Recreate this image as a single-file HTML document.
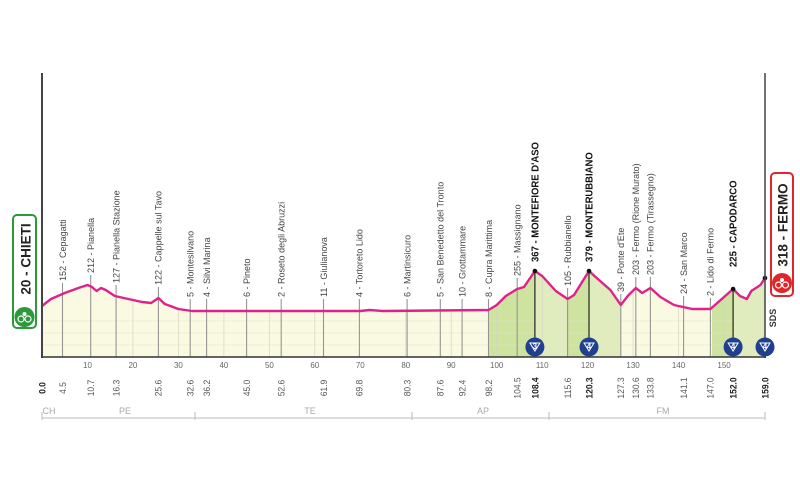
<!DOCTYPE html>
<html><head><meta charset="utf-8"><style>
html,body{margin:0;padding:0;background:#fff;}
svg{display:block;font-family:"Liberation Sans",sans-serif;}
</style></head><body>
<svg width="800" height="484" viewBox="0 0 800 484" xmlns="http://www.w3.org/2000/svg">
<defs>
<clipPath id="area"><polygon points="42,357 42,306 51,299 64.7,293 78.4,288 87.5,285 92,287 96.6,291 101.1,288 105.7,290 114.8,296 123.8,298 142,302 151.1,303 158.4,298 164.8,304 178.4,309 192,311 360.3,311 369.4,310 383,311 488.5,310 496.7,305 505.8,296 517.2,289 524,287 534.9,271 542.2,276 555.8,291 567.6,299 574,295 589,271 596.7,278 610.4,290 620.8,305 628.6,295 635.8,288 642.2,293 650.4,288 660.4,297 674,305 692.2,309 710.4,309 719.5,301 733.1,289 740,296 746.8,299 751.3,291 760.4,285 765,278 765,357"/></clipPath>
</defs>
<g clip-path="url(#area)">
<rect x="42" y="260" width="723" height="97" fill="#fafae3"/>
<rect x="489" y="260" width="46" height="97" fill="#cfe3a0"/>
<rect x="535" y="260" width="32" height="97" fill="#e0ecbd"/>
<rect x="567" y="260" width="22" height="97" fill="#cfe3a0"/>
<rect x="589" y="260" width="32" height="97" fill="#e0ecbd"/>
<rect x="712" y="260" width="21" height="97" fill="#cfe3a0"/>
<rect x="733" y="260" width="32" height="97" fill="#e0ecbd"/>
<g stroke="#e4e4cc" stroke-width="0.6">
<line x1="42" y1="321" x2="765" y2="321"/><line x1="42" y1="333" x2="765" y2="333"/><line x1="42" y1="345" x2="765" y2="345"/>
</g>
<g stroke="#d4d4c2" stroke-width="0.7">
<line x1="132.9" y1="260" x2="132.9" y2="357"/><line x1="178.4" y1="260" x2="178.4" y2="357"/><line x1="223.9" y1="260" x2="223.9" y2="357"/><line x1="269.4" y1="260" x2="269.4" y2="357"/><line x1="314.8" y1="260" x2="314.8" y2="357"/><line x1="405.8" y1="260" x2="405.8" y2="357"/><line x1="451.2" y1="260" x2="451.2" y2="357"/><line x1="496.7" y1="260" x2="496.7" y2="357"/><line x1="542.2" y1="260" x2="542.2" y2="357"/><line x1="633.1" y1="260" x2="633.1" y2="357"/><line x1="678.6" y1="260" x2="678.6" y2="357"/><line x1="724.1" y1="260" x2="724.1" y2="357"/>
</g>
</g>
<g stroke="#959595" stroke-width="1.1">
<line x1="62.5" y1="283" x2="62.5" y2="357"/><line x1="90.7" y1="275" x2="90.7" y2="357"/><line x1="116.1" y1="285" x2="116.1" y2="357"/><line x1="158.4" y1="287" x2="158.4" y2="357"/><line x1="190.2" y1="299" x2="190.2" y2="357"/><line x1="206.6" y1="299" x2="206.6" y2="357"/><line x1="246.6" y1="299" x2="246.6" y2="357"/><line x1="281.2" y1="299" x2="281.2" y2="357"/><line x1="323.5" y1="299" x2="323.5" y2="357"/><line x1="359.4" y1="299" x2="359.4" y2="357"/><line x1="407.1" y1="299" x2="407.1" y2="357"/><line x1="440.3" y1="299" x2="440.3" y2="357"/><line x1="462.1" y1="299" x2="462.1" y2="357"/><line x1="488.5" y1="299" x2="488.5" y2="357"/><line x1="517.2" y1="278" x2="517.2" y2="357"/><line x1="567.6" y1="288" x2="567.6" y2="357"/><line x1="620.8" y1="294" x2="620.8" y2="357"/><line x1="635.8" y1="277" x2="635.8" y2="357"/><line x1="650.4" y1="277" x2="650.4" y2="357"/><line x1="683.6" y1="296" x2="683.6" y2="357"/><line x1="710.4" y1="298" x2="710.4" y2="357"/>
</g>
<g stroke="#222" stroke-width="1.2">
<line x1="534.9" y1="271" x2="534.9" y2="347"/><line x1="589" y1="271" x2="589" y2="347"/><line x1="733.1" y1="289" x2="733.1" y2="347"/>
</g>
<polyline fill="none" stroke="#e0218a" stroke-width="2.4" stroke-linejoin="round" points="42,306 51,299 64.7,293 78.4,288 87.5,285 92,287 96.6,291 101.1,288 105.7,290 114.8,296 123.8,298 142,302 151.1,303 158.4,298 164.8,304 178.4,309 192,311 360.3,311 369.4,310 383,311 488.5,310 496.7,305 505.8,296 517.2,289 524,287 534.9,271 542.2,276 555.8,291 567.6,299 574,295 589,271 596.7,278 610.4,290 620.8,305 628.6,295 635.8,288 642.2,293 650.4,288 660.4,297 674,305 692.2,309 710.4,309 719.5,301 733.1,289 740,296 746.8,299 751.3,291 760.4,285 765,278"/>
<g fill="#111"><circle cx="534.9" cy="271" r="2.3"/><circle cx="589" cy="271" r="2.3"/><circle cx="733.1" cy="289" r="2.3"/><circle cx="765" cy="278" r="2.3"/></g>
<line x1="42" y1="73" x2="42" y2="358" stroke="#444" stroke-width="2"/>
<line x1="765" y1="73" x2="765" y2="358" stroke="#444" stroke-width="1.5"/>
<line x1="41" y1="357" x2="766" y2="357" stroke="#333" stroke-width="1.5"/>
<g font-size="9.5" fill="#444">
<text transform="translate(65.8,281) rotate(-90) scale(0.95,1)">152 - Cepagatti</text>
<text transform="translate(94,273) rotate(-90) scale(0.95,1)">212 - Pianella</text>
<text transform="translate(119.4,283) rotate(-90) scale(0.95,1)">127 - Pianella Stazione</text>
<text transform="translate(161.7,285) rotate(-90) scale(0.95,1)">122 - Cappelle sul Tavo</text>
<text transform="translate(193.5,297) rotate(-90) scale(0.95,1)">5 - Montesilvano</text>
<text transform="translate(209.9,297) rotate(-90) scale(0.95,1)">4 - Silvi Marina</text>
<text transform="translate(249.9,297) rotate(-90) scale(0.95,1)">6 - Pineto</text>
<text transform="translate(284.5,297) rotate(-90) scale(0.95,1)">2 - Roseto degli Abruzzi</text>
<text transform="translate(326.8,297) rotate(-90) scale(0.95,1)">11 - Giulianova</text>
<text transform="translate(362.7,297) rotate(-90) scale(0.95,1)">4 - Tortoreto Lido</text>
<text transform="translate(410.4,297) rotate(-90) scale(0.95,1)">6 - Martinsicuro</text>
<text transform="translate(443.6,297) rotate(-90) scale(0.95,1)">5 - San Benedetto del Tronto</text>
<text transform="translate(465.4,297) rotate(-90) scale(0.95,1)">10 - Grottammare</text>
<text transform="translate(491.8,297) rotate(-90) scale(0.95,1)">8 - Cupra Marittima</text>
<text transform="translate(520.5,276) rotate(-90) scale(0.95,1)">255 - Massignano</text>
<text transform="translate(570.9,286) rotate(-90) scale(0.95,1)">105 - Rubbianello</text>
<text transform="translate(624.1,292) rotate(-90) scale(0.95,1)">39 - Ponte d'Ete</text>
<text transform="translate(639.1,275) rotate(-90) scale(0.95,1)">203 - Fermo (Rione Murato)</text>
<text transform="translate(653.7,275) rotate(-90) scale(0.95,1)">203 - Fermo (Tirassegno)</text>
<text transform="translate(686.9,294) rotate(-90) scale(0.95,1)">24 - San Marco</text>
<text transform="translate(713.7,296) rotate(-90) scale(0.95,1)">2 - Lido di Fermo</text>
</g>
<g font-size="10" font-weight="bold" fill="#111">
<text transform="translate(538.5,262) rotate(-90) scale(0.95,1)">367 - MONTEFIORE D'ASO</text>
<text transform="translate(592.6,262) rotate(-90) scale(0.95,1)">379 - MONTERUBBIANO</text>
<text transform="translate(736.7,267) rotate(-90) scale(0.95,1)">225 - CAPODARCO</text>
</g>
<g font-size="8" font-weight="bold" fill="#fff" text-anchor="middle">
<circle cx="534.9" cy="347" r="9.5" fill="#1f3f8f"/><path d="M529.9,343 h10 l-5,8z" fill="none" stroke="#fff" stroke-width="1"/><text x="534.9" y="349">3</text>
<circle cx="589" cy="347" r="9.5" fill="#1f3f8f"/><path d="M584,343 h10 l-5,8z" fill="none" stroke="#fff" stroke-width="1"/><text x="589" y="349">4</text>
<circle cx="733.1" cy="347" r="9.5" fill="#1f3f8f"/><path d="M728.1,343 h10 l-5,8z" fill="none" stroke="#fff" stroke-width="1"/><text x="733.1" y="349">4</text>
<circle cx="765" cy="347" r="9.5" fill="#1f3f8f"/><path d="M760,343 h10 l-5,8z" fill="none" stroke="#fff" stroke-width="1"/><text x="765" y="349">4</text>
</g>
<text transform="translate(776,318) rotate(-90)" font-size="9" font-weight="bold" fill="#333" text-anchor="middle">SDS</text>
<g font-size="8" fill="#666" text-anchor="middle">
<text x="87.5" y="368">10</text><text x="132.9" y="368">20</text><text x="178.4" y="368">30</text><text x="223.9" y="368">40</text><text x="269.4" y="368">50</text><text x="314.8" y="368">60</text><text x="360.3" y="368">70</text><text x="405.8" y="368">80</text><text x="451.2" y="368">90</text><text x="496.7" y="368">100</text><text x="542.2" y="368">110</text><text x="587.6" y="368">120</text><text x="633.1" y="368">130</text><text x="678.6" y="368">140</text><text x="724.1" y="368">150</text>
</g>
<g font-size="9.5" fill="#555" text-anchor="middle">
<text transform="translate(65.8,388) rotate(-90) scale(0.9,1)">4.5</text>
<text transform="translate(94,388) rotate(-90) scale(0.9,1)">10.7</text>
<text transform="translate(119.4,388) rotate(-90) scale(0.9,1)">16.3</text>
<text transform="translate(161.7,388) rotate(-90) scale(0.9,1)">25.6</text>
<text transform="translate(193.5,388) rotate(-90) scale(0.9,1)">32.6</text>
<text transform="translate(209.9,388) rotate(-90) scale(0.9,1)">36.2</text>
<text transform="translate(249.9,388) rotate(-90) scale(0.9,1)">45.0</text>
<text transform="translate(284.5,388) rotate(-90) scale(0.9,1)">52.6</text>
<text transform="translate(326.8,388) rotate(-90) scale(0.9,1)">61.9</text>
<text transform="translate(362.7,388) rotate(-90) scale(0.9,1)">69.8</text>
<text transform="translate(410.4,388) rotate(-90) scale(0.9,1)">80.3</text>
<text transform="translate(443.6,388) rotate(-90) scale(0.9,1)">87.6</text>
<text transform="translate(465.4,388) rotate(-90) scale(0.9,1)">92.4</text>
<text transform="translate(491.8,388) rotate(-90) scale(0.9,1)">98.2</text>
<text transform="translate(520.5,388) rotate(-90) scale(0.9,1)">104.5</text>
<text transform="translate(570.9,388) rotate(-90) scale(0.9,1)">115.6</text>
<text transform="translate(624.1,388) rotate(-90) scale(0.9,1)">127.3</text>
<text transform="translate(639.1,388) rotate(-90) scale(0.9,1)">130.6</text>
<text transform="translate(653.7,388) rotate(-90) scale(0.9,1)">133.8</text>
<text transform="translate(686.9,388) rotate(-90) scale(0.9,1)">141.1</text>
<text transform="translate(713.7,388) rotate(-90) scale(0.9,1)">147.0</text>
</g>
<g font-size="9.5" font-weight="bold" fill="#222" text-anchor="middle">
<text transform="translate(45.3,388) rotate(-90) scale(0.9,1)">0.0</text>
<text transform="translate(538.5,388) rotate(-90) scale(0.9,1)">108.4</text>
<text transform="translate(592.6,388) rotate(-90) scale(0.9,1)">120.3</text>
<text transform="translate(736.7,388) rotate(-90) scale(0.9,1)">152.0</text>
<text transform="translate(768.5,388) rotate(-90) scale(0.9,1)">159.0</text>
</g>
<path d="M42,418 H765 M42,412 V420 M195,412 V420 M412,412 V420 M549,412 V420 M765,412 V420" stroke="#bbb" stroke-width="1" fill="none"/>
<g font-size="9" fill="#aaa" text-anchor="middle">
<text x="49" y="414">CH</text><text x="125" y="414">PE</text><text x="310" y="414">TE</text><text x="483" y="414">AP</text><text x="663" y="414">FM</text>
</g>
<rect x="13" y="215" width="23" height="113" rx="4" fill="#fff" stroke="#2a9a3a" stroke-width="2"/>
<text transform="translate(30.5,259) rotate(-90)" font-size="13.5" font-weight="bold" fill="#222" text-anchor="middle">20 - CHIETI</text>
<circle cx="24.5" cy="317" r="10" fill="#2a9a3a"/>
<circle cx="21" cy="319" r="3" fill="none" stroke="#fff" stroke-width="1.2"/><circle cx="28" cy="319" r="3" fill="none" stroke="#fff" stroke-width="1.2"/><circle cx="24.5" cy="314" r="2" fill="#fff"/>
<rect x="771" y="173" width="22" height="123" rx="4" fill="#fff" stroke="#e0262a" stroke-width="2"/>
<text transform="translate(787.5,225) rotate(-90)" font-size="13.5" font-weight="bold" fill="#222" text-anchor="middle">318 - FERMO</text>
<circle cx="782" cy="283" r="10" fill="#e0262a"/>
<circle cx="778.5" cy="285" r="3" fill="none" stroke="#fff" stroke-width="1.2"/><circle cx="785.5" cy="285" r="3" fill="none" stroke="#fff" stroke-width="1.2"/><circle cx="782" cy="280" r="2" fill="#fff"/>
</svg>
</body></html>
